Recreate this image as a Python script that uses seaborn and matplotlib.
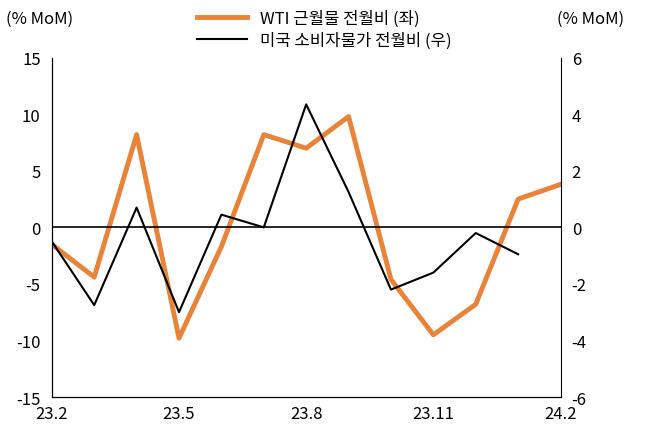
import matplotlib
matplotlib.use("Agg")
import matplotlib.pyplot as plt
from matplotlib import font_manager as fm
import seaborn as sns
import pandas as pd
import numpy as np

cjk = [f.name for f in fm.fontManager.ttflist if "CJK" in f.name]
kr = [n for n in cjk if "KR" in n] or cjk
plt.rcParams["font.family"] = (kr[:1] if kr else []) + ["DejaVu Sans"]
plt.rcParams["axes.unicode_minus"] = False

months = ["23.2","23.3","23.4","23.5","23.6","23.7","23.8","23.9","23.10","23.11","23.12","24.1","24.2"]
wti = [-1.5,-4.4,8.2,-9.8,-1.7,8.2,7.0,9.8,-4.6,-9.5,-6.8,2.5,3.8]
cpi = [-0.5,-2.75,0.7,-3.0,0.45,0.0,4.35,1.25,-2.2,-1.6,-0.2,-0.95,np.nan]
tick_labels = ["23.2","23.5","23.8","23.11","24.2"]

df = pd.DataFrame({"x": np.arange(len(months)), "wti": wti, "cpi": cpi})

fig, ax = plt.subplots(figsize=(6.48, 4.35), dpi=100)
fig.subplots_adjust(left=0.08, right=0.865, top=0.865, bottom=0.085)
ax2 = ax.twinx()

sns.lineplot(data=df, x="x", y="wti", ax=ax, color="#E8833A", lw=3.5, label="WTI 근월물 전월비 (좌)", legend=False)
sns.lineplot(data=df.dropna(), x="x", y="cpi", ax=ax2, color="black", lw=1.5, label="미국 소비자물가 전월비 (우)", legend=False)

ax.axhline(0, color="black", lw=1.2)
ax.set_xlim(0, len(months)-1)
ax.set_ylim(-15, 15)
ax.set_yticks(range(-15, 16, 5))
ax2.set_ylim(-6, 6)
ax2.set_yticks(range(-6, 7, 2))
ax.set_xticks([months.index(t) for t in tick_labels])
ax.set_xticklabels(tick_labels)
for a in (ax, ax2):
    a.set_xlabel(""); a.set_ylabel("")
    a.spines["top"].set_visible(False)
    a.tick_params(labelsize=12, length=0, pad=8)
ax.tick_params(axis="x", pad=6)
ax.spines["right"].set_visible(False)

fig.text(0.01, 0.945, "(% MoM)", fontsize=12)
fig.text(0.86, 0.945, "(% MoM)", fontsize=12)

h = ax.get_lines()[:1] + ax2.get_lines()[:1]
fig.legend(h, [x.get_label() for x in h], loc="upper center", bbox_to_anchor=(0.5, 1.01),
           frameon=False, fontsize=12, ncol=1, handlelength=3, labelspacing=0.3)
fig.savefig("out.png", dpi=100)
